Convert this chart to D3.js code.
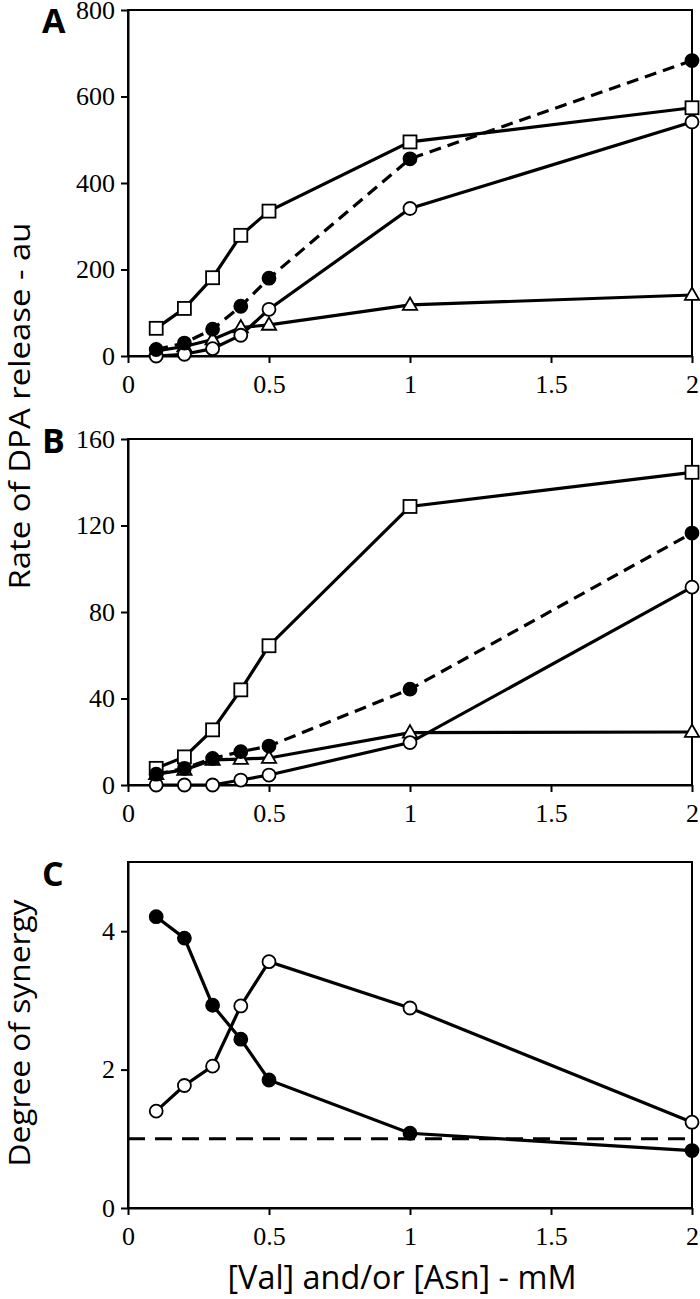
<!DOCTYPE html>
<html><head><meta charset="utf-8">
<script src="https://cdn.jsdelivr.net/npm/d3@7/dist/d3.min.js"></script>
<style>
html,body{margin:0;padding:0;background:#fff;}
svg{display:block;}
</style></head>
<body>
<script>
// ---- data ----
const xVals = [0.1, 0.2, 0.3, 0.4, 0.5, 1, 2];
const xTicks = [0, 0.5, 1, 1.5, 2];

// Panel A
const aSquare   = [64, 110, 181, 279, 335, 495, 574];
const aFilled   = [15, 30, 62, 115, 180, 456, 683];
const aOpen     = [0, 4, 17, 48, 108, 341, 541];
const aTriangle = [12, 22, 38, 66, 72, 118, 141];
const aTicks = [0, 200, 400, 600, 800];

// Panel B
const bSquare   = [7.7, 13, 25.5, 44, 64.4, 128.8, 144.6];
const bFilled   = [5, 7.7, 12.3, 15.4, 18, 44.3, 116.5];
const bOpen     = [0, 0, 0, 2.3, 4.6, 19.6, 91.5];
const bTriangle = [5, 7, 11.6, 12, 12.5, 24.2, 24.5];
const bTicks = [0, 40, 80, 120, 160];

// Panel C
const cFilled = [4.21, 3.9, 2.93, 2.44, 1.85, 1.08, 0.83];
const cOpen   = [1.40, 1.77, 2.05, 2.92, 3.56, 2.89, 1.24];
const cReference = 1;
const cTicks = [0, 2, 4];

const W = 700, H = 1299;
const svg = d3.select("body").append("svg").attr("width", W).attr("height", H);

const x = d3.scaleLinear().domain([0, 2]).range([128, 692]);

const panels = [
  {label: "A", top: 10,  bottom: 356,  ymax: 800, ticks: aTicks,
   series: [
     {vals: aTriangle, marker: "triangle", dash: null},
     {vals: aOpen, marker: "open", dash: null},
     {vals: aSquare, marker: "square", dash: null},
     {vals: aFilled, marker: "filled", dash: "12,7"}
   ]},
  {label: "B", top: 439, bottom: 785, ymax: 160, ticks: bTicks,
   series: [
     {vals: bTriangle, marker: "triangle", dash: null},
     {vals: bOpen, marker: "open", dash: null},
     {vals: bSquare, marker: "square", dash: null},
     {vals: bFilled, marker: "filled", dash: "12,7"}
   ]},
  {label: "C", top: 862, bottom: 1208, ymax: 5, ticks: cTicks, ref: cReference,
   series: [
     {vals: cOpen, marker: "open", dash: null},
     {vals: cFilled, marker: "filled", dash: null}
   ]}
];

const sansFont = "'Open Sans','Noto Sans',sans-serif";
const serifFont = "'Liberation Serif','DejaVu Serif',serif";
const fmt = d3.format("~g");

panels.forEach(p => {
  const y = d3.scaleLinear().domain([0, p.ymax]).range([p.bottom, p.top]);
  const g = svg.append("g");

  // frame
  g.append("rect")
    .attr("x", x(0)).attr("y", y(p.ymax))
    .attr("width", x(2) - x(0)).attr("height", y(0) - y(p.ymax))
    .attr("fill", "none").attr("stroke", "#000").attr("stroke-width", 2);

  // axes
  const ya = g.append("g").attr("transform", `translate(${x(0)},0)`)
    .call(d3.axisLeft(y).tickValues(p.ticks).tickSize(7).tickSizeOuter(0).tickPadding(6).tickFormat(fmt));
  const xa = g.append("g").attr("transform", `translate(0,${y(0)})`)
    .call(d3.axisBottom(x).tickValues(xTicks).tickSize(7).tickSizeOuter(0).tickPadding(12).tickFormat(fmt));
  [ya, xa].forEach(a => {
    a.attr("font-size", null).attr("font-family", null);
    a.selectAll("path.domain").attr("stroke-width", 2);
    a.selectAll(".tick line").attr("stroke-width", 2);
    a.selectAll(".tick text")
      .style("font-family", serifFont)
      .style("font-size", "26px")
      .attr("fill", "#000");
  });

  // reference line
  if (p.ref !== undefined) {
    g.append("line")
      .attr("x1", x(0)).attr("x2", x(2))
      .attr("y1", y(p.ref)).attr("y2", y(p.ref))
      .attr("stroke", "#000").attr("stroke-width", 3)
      .attr("stroke-dasharray", "17,10");
  }

  const line = d3.line().x((d, i) => x(xVals[i])).y(d => y(d));

  p.series.forEach(s => {
    g.append("path").datum(s.vals)
      .attr("d", line)
      .attr("fill", "none").attr("stroke", "#000").attr("stroke-width", 3.2)
      .attr("stroke-dasharray", s.dash);
  });
  p.series.forEach(s => {
    const mg = g.append("g");
    s.vals.forEach((v, i) => {
      const cx = x(xVals[i]), cy = y(v);
      if (s.marker === "square") {
        mg.append("rect").attr("x", cx - 6.5).attr("y", cy - 6.5)
          .attr("width", 13).attr("height", 13)
          .attr("fill", "#fff").attr("stroke", "#000").attr("stroke-width", 1.8);
      } else if (s.marker === "triangle") {
        const r = 7.5;
        mg.append("path")
          .attr("d", `M${cx},${cy - r} L${cx + r * 0.95},${cy + r * 0.65} L${cx - r * 0.95},${cy + r * 0.65} Z`)
          .attr("fill", "#fff").attr("stroke", "#000").attr("stroke-width", 1.8);
      } else {
        mg.append("circle").attr("cx", cx).attr("cy", cy).attr("r", 6.5)
          .attr("fill", s.marker === "filled" ? "#000" : "#fff")
          .attr("stroke", "#000").attr("stroke-width", 1.8);
      }
    });
  });

  // panel letter
  const ly = {A: 33, B: 453, C: 886}[p.label];
  svg.append("text").attr("x", 42).attr("y", ly)
    .style("font-family", sansFont).style("font-weight", "bold")
    .style("font-size", "34px").attr("fill", "#000").text(p.label);
});

// axis titles
svg.append("text")
  .attr("transform", "translate(30,406) rotate(-90)")
  .attr("text-anchor", "middle")
  .style("font-family", sansFont).style("font-size", "29px")
  .attr("textLength", 367).attr("lengthAdjust", "spacingAndGlyphs")
  .text("Rate of DPA release - au");

svg.append("text")
  .attr("transform", "translate(30,1033) rotate(-90)")
  .attr("text-anchor", "middle")
  .style("font-family", sansFont).style("font-size", "29px")
  .attr("textLength", 267).attr("lengthAdjust", "spacingAndGlyphs")
  .text("Degree of synergy");

svg.append("text")
  .attr("x", 402).attr("y", 1289)
  .attr("text-anchor", "middle")
  .style("font-family", sansFont).style("font-size", "32px")
  .attr("textLength", 349).attr("lengthAdjust", "spacingAndGlyphs")
  .text("[Val] and/or [Asn] - mM");
</script>
</body></html>
